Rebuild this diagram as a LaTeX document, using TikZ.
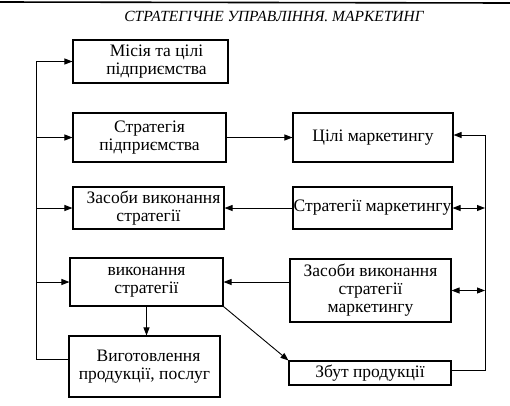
\documentclass[tikz,border=0pt]{standalone}
\usepackage{fontspec}
\setmainfont{Liberation Serif}
\usetikzlibrary{arrows.meta}

\tikzset{
  blok/.style={draw, line width=1.1pt, rectangle, inner sep=0pt, align=center,
    font=\fontsize{17.5}{18}\selectfont},
  >={Triangle[length=8pt,width=6pt]}
}

\begin{document}
\begin{tikzpicture}[x=1pt,y=-1pt, line width=0.9pt]
  \useasboundingbox (0,0) rectangle (510,405);

  \draw [line width=1.6pt] (0,2) -- (510,3);
  \node (title) at (274,16) {\fontsize{15.5}{17}\selectfont\itshape СТРАТЕГІЧНЕ УПРАВЛІННЯ. МАРКЕТИНГ};

  % left column
  \node [blok, minimum width=155, minimum height=43] (A) at (150.5,61.5) {\hspace*{12pt}Місія та цілі\\\hspace*{12pt}підприємства};
  \node [blok, minimum width=153, minimum height=49] (B) at (149.5,137.5) {Стратегія\\підприємства};
  \node [blok, minimum width=151, minimum height=42] (D) at (148.5,208) {\hspace*{10pt}Засоби виконання\\стратегії};
  \node [blok, minimum width=153, minimum height=48] (F) at (146.5,282) {виконання\\стратегії};
  \node [blok, minimum width=151, minimum height=61] (H) at (144.5,366.5) {\hspace*{8pt}Виготовлення\\продукції, послуг};

  % right column
  \node [blok, minimum width=160, minimum height=49] (C) at (373,137.5) {Цілі маркетингу};
  \node [blok, minimum width=159, minimum height=42] (E) at (372.5,208) {Стратегії маркетингу};
  \node [blok, minimum width=161, minimum height=63] (G) at (370.5,290.5) {Засоби виконання\\стратегії\\маркетингу};
  \node [blok, minimum width=162, minimum height=24] (I) at (370,373) {Збут продукції};

  \coordinate (lt) at (36,61.5);
  \coordinate (lb) at (36,359);
  \coordinate (rt) at (485,135);
  \coordinate (rb) at (485,370);

  % left feedback line
  \draw (H.west |- lb) -- (lb) -- (lt);
  \draw [->] (lt) -- (A.west);
  \draw [->] (lb |- B.west) -- (B.west);
  \draw [->] (lb |- D.west) -- (D.west);
  \draw [->] (lb |- F.west) -- (F.west);

  % right feedback line
  \draw [->] (I.east |- rb) -- (rb) -- (rt) -- (C.east |- rt);
  \draw [<->] (E.east) -- (rt |- E.east);
  \draw [<->] (G.east) -- (rt |- G.east);

  \draw [->] (B.east) -- (C.west);
  \draw [->] (E.west) -- (D.east);
  \draw [->] (G.west |- F.east) -- (F.east);
  \draw [->] (F.south) -- (F.south |- H.north);
  \draw [->] (F.south east) -- (I.north west);

\end{tikzpicture}
\end{document}
